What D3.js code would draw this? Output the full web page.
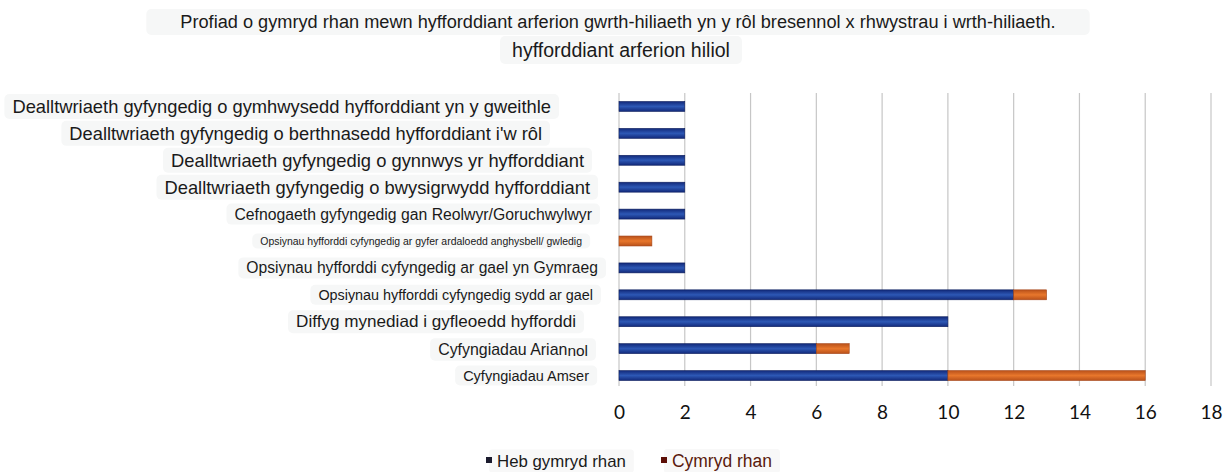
<!DOCTYPE html>
<html>
<head>
<meta charset="utf-8">
<script src="https://cdn.jsdelivr.net/npm/d3@7"></script>
<style>
  body { margin: 0; background: #fff; }
  text { font-family: 'Liberation Sans', Arial, sans-serif; }
</style>
</head>
<body>
<div class="canvas"></div>
<script>
// data
const categories = [
  'Dealltwriaeth gyfyngedig o gymhwysedd hyfforddiant yn y gweithle',
  "Dealltwriaeth gyfyngedig o berthnasedd hyfforddiant i'w rôl",
  'Dealltwriaeth gyfyngedig o gynnwys yr hyfforddiant',
  'Dealltwriaeth gyfyngedig o bwysigrwydd hyfforddiant',
  'Cefnogaeth gyfyngedig gan Reolwyr/Goruchwylwyr',
  'Opsiynau hyfforddi cyfyngedig ar gyfer ardaloedd anghysbell/ gwledig',
  'Opsiynau hyfforddi cyfyngedig ar gael yn Gymraeg',
  'Opsiynau hyfforddi cyfyngedig sydd ar gael',
  'Diffyg mynediad i gyfleoedd hyfforddi',
  'Cyfyngiadau Ariannol',
  'Cyfyngiadau Amser'
];
const hebGymrydRhan = [2, 2, 2, 2, 2, 0, 2, 12, 10, 6, 10];
const cymrydRhan = [0, 0, 0, 0, 0, 1, 0, 1, 0, 1, 6];
const seriesNames = ['Heb gymryd rhan', 'Cymryd rhan'];
const xTicks = [0, 2, 4, 6, 8, 10, 12, 14, 16, 18];
const titleLines = [
  'Profiad o gymryd rhan mewn hyfforddiant arferion gwrth-hiliaeth yn y rôl bresennol x rhwystrau i wrth-hiliaeth.',
  'hyfforddiant arferion hiliol'
];

// label layout (left, right edge of each text in px)
const labelSpan = [[12, 551], [69, 542], [171, 584], [164, 590], [234, 592],
  [260, 582], [246, 598], [318, 593], [296, 576], [438, 588], [463, 589]];

const width = 1230, height = 472;
const svg = d3.select('.canvas').append('svg').attr('width', width).attr('height', height);

const defs = svg.append('defs');
function grad(id, edge, mid) {
  const g = defs.append('linearGradient').attr('id', id)
    .attr('x1', 0).attr('x2', 0).attr('y1', 0).attr('y2', 1);
  g.append('stop').attr('offset', '0%').attr('stop-color', edge);
  g.append('stop').attr('offset', '50%').attr('stop-color', mid);
  g.append('stop').attr('offset', '100%').attr('stop-color', edge);
}
grad('gBlue', '#12297a', '#2d58b5');
grad('gOrange', '#b9511a', '#e8772c');

// fit a text element's font size so it spans w px
function fit(t, w) {
  t.style('font-size', '10px');
  const m = t.node().getComputedTextLength();
  t.style('font-size', (10 * w / m) + 'px');
}
function backBox(g, t, px, py, rx, fill) {
  const b = t.node().getBBox();
  g.insert('rect', 'text').attr('x', b.x - px).attr('y', b.y - py)
    .attr('width', b.width + 2 * px).attr('height', b.height + 2 * py)
    .attr('rx', rx).attr('fill', fill);
}

const x = d3.scaleLinear().domain([0, 18]).range([619, 1211]);
const y = d3.scaleBand().domain(categories).range([93, 389])
  .paddingInner(0.63).paddingOuter(0.315);

// title
const titleG = svg.append('g');
const titleSpan = [[180, 1056], [512, 730]];
const titleY = [22, 50];
titleLines.forEach((s, i) => {
  const [l, r] = titleSpan[i];
  const t = titleG.append('text').attr('x', (l + r) / 2).attr('y', titleY[i])
    .attr('text-anchor', 'middle').attr('dominant-baseline', 'central')
    .attr('fill', '#1a1a1a').text(s);
  fit(t, r - l);
  backBox(titleG, t, i === 0 ? 34 : 12, 3, 5, '#f6f7f7');
});

// grid
svg.append('g').selectAll('line').data(xTicks).join('line')
  .attr('x1', d => x(d)).attr('x2', d => x(d))
  .attr('y1', 93).attr('y2', 386)
  .attr('stroke', '#c6c6c6').attr('stroke-width', 1.2);

// axis labels
const xAxis = svg.append('g').attr('transform', 'translate(0,402)')
  .call(d3.axisBottom(x).tickValues(xTicks).tickSize(0).tickPadding(0));
xAxis.select('.domain').remove();
xAxis.selectAll('text').style('font-family', 'Lato, Carlito, sans-serif')
  .style('font-size', '19px').attr('fill', '#111').attr('dy', '0.9em');

// category labels, fitted to their span
const labelG = svg.append('g');
categories.forEach((c, i) => {
  const [l, r] = labelSpan[i];
  const cy = y(c) + y.bandwidth() / 2;
  const t = labelG.append('text').attr('x', r).attr('y', cy)
    .attr('text-anchor', 'end').attr('dominant-baseline', 'central')
    .attr('fill', '#1a1a1a');
  if (c === 'Cyfyngiadau Ariannol') {
    t.append('tspan').text('Cyfyngiadau Arian');
    t.append('tspan').attr('dy', 1.5).style('font-size', '0.97em').text('nol');
  } else {
    t.text(c);
  }
  fit(t, r - l);
  backBox(labelG, t, 8, 2, 5, '#f6f7f7');
});

// bars
const bars = svg.append('g');
bars.selectAll('rect.heb').data(categories).join('rect').attr('class', 'heb')
  .filter((d, i) => hebGymrydRhan[i] > 0)
  .attr('x', x(0))
  .attr('y', d => y(d))
  .attr('width', d => x(hebGymrydRhan[categories.indexOf(d)]) - x(0))
  .attr('height', y.bandwidth())
  .attr('fill', 'url(#gBlue)').attr('stroke', '#0e1f5e').attr('stroke-width', 0.6);
bars.selectAll('rect.cym').data(categories).join('rect').attr('class', 'cym')
  .filter((d, i) => cymrydRhan[i] > 0)
  .attr('x', d => x(hebGymrydRhan[categories.indexOf(d)]))
  .attr('y', d => y(d))
  .attr('width', d => { const i = categories.indexOf(d); return x(hebGymrydRhan[i] + cymrydRhan[i]) - x(hebGymrydRhan[i]); })
  .attr('height', y.bandwidth())
  .attr('fill', 'url(#gOrange)').attr('stroke', '#a5461a').attr('stroke-width', 0.6);

// legend
const legend = [
  { name: seriesNames[0], x: 486, w: 129, sq: '#1b1b2e', col: '#1a1a1a' },
  { name: seriesNames[1], x: 661, w: 100, sq: '#5c0e06', col: '#5a1a0c' }
];
const legG = svg.append('g');
legend.forEach(d => {
  const t = legG.append('text').attr('x', d.x + 11).attr('y', 461)
    .attr('dominant-baseline', 'central').attr('fill', d.col).text(d.name);
  fit(t, d.w);
  backBox(legG, t, 8, 2, 3, '#f8f8f8');
  legG.append('rect').attr('x', d.x).attr('y', 457).attr('width', 6).attr('height', 6).attr('fill', d.sq);
});
</script>
</body>
</html>
